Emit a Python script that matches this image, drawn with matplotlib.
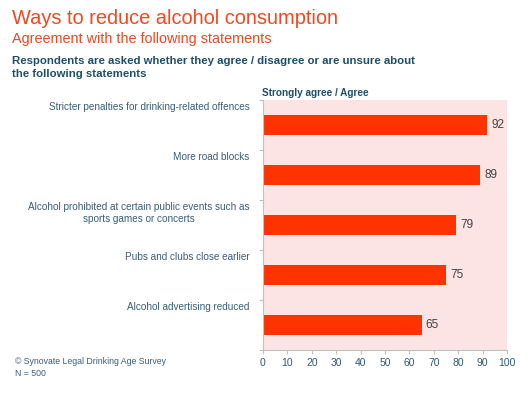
import matplotlib
matplotlib.use("Agg")
import matplotlib.pyplot as plt
from matplotlib.ticker import FixedLocator

plt.rcParams['font.family'] = ['Liberation Sans', 'DejaVu Sans']

categories = [
    "Stricter penalties for drinking-related offences",
    "More road blocks",
    "Alcohol prohibited at certain public events such as\nsports games or concerts",
    "Pubs and clubs close earlier",
    "Alcohol advertising reduced",
]
values = [92, 89, 79, 75, 65]
xticks = [0, 10, 20, 30, 40, 50, 60, 70, 80, 90, 100]

W, H = 532, 397
fig = plt.figure(figsize=(W / 100, H / 100), dpi=100)

def fx(px):
    return px / W

def fy(py):
    return 1 - py / H

TITLE_C = '#F04820'
HEAD_C = '#1D4F68'
LABEL_C = '#3A5E78'
TICK_C = '#2F5A75'
BAR_C = '#FF3300'
BG_C = '#FDE4E4'
SPINE_C = '#C0C0C0'

ax_left, ax_right, ax_top, ax_bottom = 263, 507, 100, 350
ax = fig.add_axes([fx(ax_left), fy(ax_bottom), (ax_right - ax_left) / W, (ax_bottom - ax_top) / H])
ax.set_facecolor(BG_C)

n = len(categories)
ypos = list(range(n))
ax.barh(ypos, values, height=0.4, color=BAR_C, zorder=2)
for y, v in zip(ypos, values):
    ax.annotate(str(v), xy=(v, y), xytext=(3, 0), textcoords='offset points',
                ha='left', va='center', fontsize=8.5, color='#404040')

ax.set_xlim(0, 100)
ax.set_ylim(n - 0.5, -0.5)
ax.set_xticks(xticks)
ax.set_xticklabels([str(t) for t in xticks], fontsize=7.5, color=TICK_C)
ax.tick_params(axis='x', length=3, color=SPINE_C, pad=3)
ax.yaxis.set_major_locator(FixedLocator([i - 0.5 for i in range(n + 1)]))
ax.set_yticklabels([])
ax.tick_params(axis='y', length=3, color=SPINE_C)
for s in ['top', 'right']:
    ax.spines[s].set_visible(False)
for s in ['left', 'bottom']:
    ax.spines[s].set_color(SPINE_C)
    ax.spines[s].set_linewidth(0.8)

for y, c in zip(ypos, categories):
    ax.text(-0.055, y - 0.455, c, transform=ax.get_yaxis_transform(), ha='right', va='top',
            fontsize=7.2, color=LABEL_C, linespacing=1.2, multialignment='center')

fig.text(fx(12), fy(18), "Ways to reduce alcohol consumption", fontsize=14.4,
         color=TITLE_C, ha='left', va='center')
fig.text(fx(12), fy(39), "Agreement with the following statements", fontsize=10.4,
         color=TITLE_C, ha='left', va='center')
fig.text(fx(12), fy(67.5), "Respondents are asked whether they agree / disagree or are unsure about\nthe following statements",
         fontsize=8.2, fontweight='bold', color=HEAD_C, ha='left', va='center', linespacing=1.3)
fig.text(fx(262), fy(92.5), "Strongly agree / Agree", fontsize=7.2, fontweight='bold',
         color=HEAD_C, ha='left', va='center')
fig.text(fx(15), fy(367.5), "\u00a9 Synovate Legal Drinking Age Survey\nN = 500", fontsize=6.3,
         color=LABEL_C, ha='left', va='center', linespacing=1.3)

fig.savefig("out.png", dpi=100)
